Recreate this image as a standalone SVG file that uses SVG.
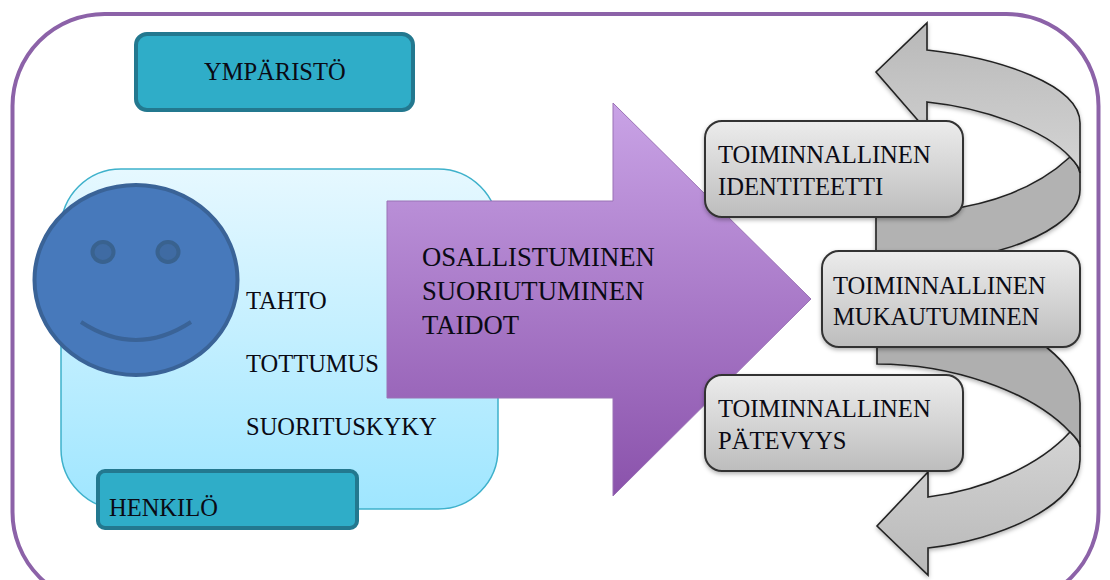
<svg xmlns="http://www.w3.org/2000/svg" width="1110" height="580" viewBox="0 0 1110 580">
<style>
text{font-family:"Liberation Serif","Times New Roman",serif;fill:#0a0a14}
.t{font-size:24.6px}
.p{font-size:26.7px}
.s{font-size:24.5px}
.g{stroke:#333;stroke-width:2;filter:url(#sh)}
.c{stroke:#222;stroke-width:1.6;stroke-linejoin:miter}
.teal{fill:#2fadc8;stroke:#23788f;stroke-width:4}
.eye{fill:#3f6ba3;stroke:#39628f;stroke-width:4}
</style>
<defs>
<linearGradient id="blue" x1="0" y1="0" x2="0" y2="1"><stop offset="0" stop-color="#e6f8ff"/><stop offset="1" stop-color="#9fe6ff"/></linearGradient>
<linearGradient id="pur" x1="0" y1="0" x2="0" y2="1"><stop offset="0" stop-color="#c9a3e6"/><stop offset="1" stop-color="#8a52ab"/></linearGradient>
<linearGradient id="gry" x1="0" y1="0" x2="0" y2="1"><stop offset="0" stop-color="#ececec"/><stop offset="1" stop-color="#bdbdbd"/></linearGradient>
<linearGradient id="up" x1="0" y1="0" x2="0" y2="1"><stop offset="0" stop-color="#b8b8b8"/><stop offset="1" stop-color="#d4d4d4"/></linearGradient>
<linearGradient id="dn" x1="0" y1="1" x2="0" y2="0"><stop offset="0" stop-color="#b8b8b8"/><stop offset="1" stop-color="#d4d4d4"/></linearGradient>
<filter id="sh" x="-10%" y="-10%" width="120%" height="125%"><feDropShadow dx="0" dy="2" stdDeviation="2" flood-color="#000" flood-opacity="0.3"/></filter>
</defs>
<rect id="frame" x="12.500" y="14" width="1086" height="590" rx="92" ry="92" fill="#fff" stroke="#8c62a8" stroke-width="4"/>
<g id="ymparisto"><rect class="teal" x="136" y="34" width="277" height="76" rx="11"/><text class="s" x="204" y="80">YMPÄRISTÖ</text></g>
<g id="henkilo-panel"><rect x="61" y="169" width="437" height="340" rx="60" fill="url(#blue)" stroke="#3eb1cb" stroke-width="1.500"/></g>
<g id="face">
<ellipse cx="136" cy="280" rx="101.500" ry="95" fill="#4779bb" stroke="#3a6397" stroke-width="4"/>
<ellipse class="eye" cx="103" cy="252" rx="10.500" ry="10"/>
<ellipse class="eye" cx="168" cy="252" rx="10.500" ry="10"/>
<path d="M81 322Q136 358 191 322" fill="none" stroke="#3a6397" stroke-width="4"/>
</g>
<text class="s" x="246" y="309">TAHTO</text>
<text class="s" x="246" y="372">TOTTUMUS</text>
<text class="s" x="246" y="435">SUORITUSKYKY</text>
<g id="henkilo"><rect class="teal" x="98" y="471" width="259" height="57" rx="7"/><text class="s" x="109" y="516">HENKILÖ</text></g>
<g id="main-arrow"><path d="M387 201H613V103L811 299L613 496V398H387Z" fill="url(#pur)" stroke="#9a72b5" stroke-width="1"/>
<text class="p" x="422" y="266">OSALLISTUMINEN</text><text class="p" x="422" y="300">SUORIUTUMINEN</text><text class="p" x="422" y="334">TAIDOT</text></g>
<g id="connectors" filter="url(#sh)">
<path class="c" d="M1070 157C1040 185 1000 200 963 207L900 217H876V251H997C1045 238 1080 215 1080 190V173C1079 167 1075 162 1070 157Z" fill="#b2b2b2"/>
<path class="c" d="M927 125V102C985 108 1045 130 1070 157C1076 163 1080 168 1080 173V123C1080 85 1000 58 927 50V23L876 72L922 125Z" fill="url(#up)"/>
<path class="c" d="M877 340H1037C1062 358 1080 378 1080 403V447C1080 442 1075 437 1070 432C1030 390 950 364 877 364Z" fill="#afafaf"/>
<path class="c" d="M1070 432C1075 437 1080 442 1080 447V460C1080 505 1000 540 928 548V575L877 526L928 472V497C985 490 1040 465 1070 432Z" fill="url(#dn)"/>
</g>
<g id="identiteetti"><rect class="g" x="705" y="121" width="258" height="96" rx="17" fill="url(#gry)"/><text class="t" x="718" y="163">TOIMINNALLINEN</text><text class="t" x="718" y="195">IDENTITEETTI</text></g>
<g id="mukautuminen"><rect class="g" x="822" y="251" width="258" height="96" rx="17" fill="url(#gry)"/><text class="t" x="833" y="294">TOIMINNALLINEN</text><text class="t" x="833" y="325">MUKAUTUMINEN</text></g>
<g id="patevyys"><rect class="g" x="705" y="375" width="258" height="96" rx="17" fill="url(#gry)"/><text class="t" x="718" y="417">TOIMINNALLINEN</text><text class="t" x="718" y="449">PÄTEVYYS</text></g>
</svg>
